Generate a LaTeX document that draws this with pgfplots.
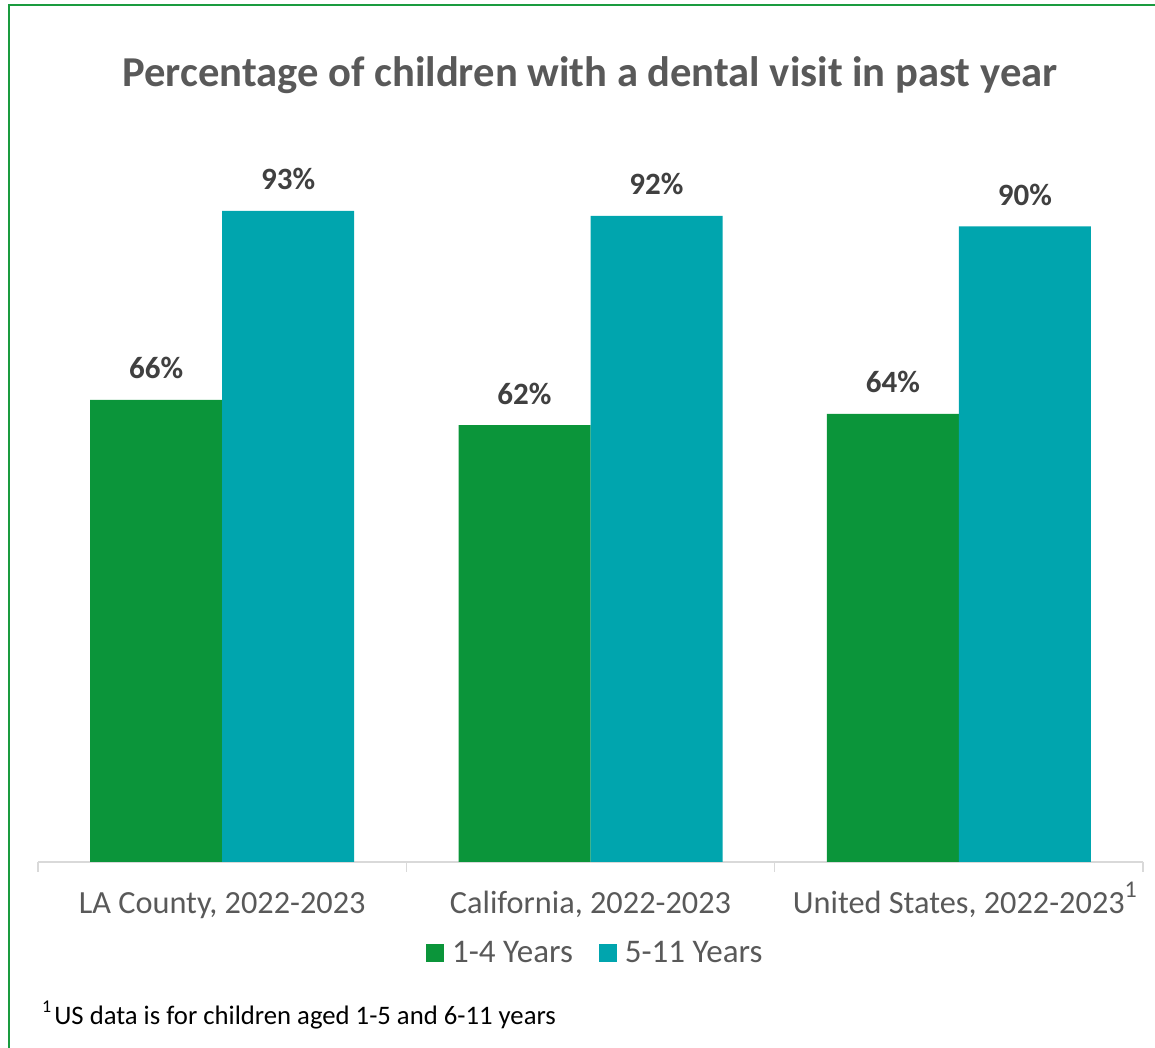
\documentclass[border=0pt]{standalone}
\usepackage{pgfplots}
\pgfplotsset{compat=1.18}
\usepackage{fontspec}
\setmainfont{Carlito}
\definecolor{cgreen}{HTML}{0B953A}
\definecolor{cteal}{HTML}{00A5AE}
\definecolor{cborder}{HTML}{1A9B3F}
\definecolor{ctext}{HTML}{595959}
\definecolor{clab}{HTML}{404040}
\definecolor{caxis}{HTML}{D9D9D9}
\begin{document}
\begin{tikzpicture}[x=1pt,y=1pt]
\useasboundingbox (0,0) rectangle (1155,1048);
\draw[cborder,line width=2pt] (9,-5) -- (9,1043) -- (1160,1043);
\node[anchor=base,text=ctext,font=\fontsize{42.6}{50}\selectfont\bfseries] at (590,961) {Percentage of children with a dental visit in past year};
\begin{axis}[
  at={(38pt,186pt)}, anchor=south west,
  scale only axis, width=1105pt, height=700pt,
  xmin=-0.5, xmax=2.5, ymin=0, ymax=100,
  axis x line*=bottom, axis y line=none,
  x axis line style={caxis,line width=1.5pt},
  ybar=0pt, bar width=132pt,
  clip=false,
  xtick={0,1,2},
  xticklabels={LA County{,} 2022-2023, California{,} 2022-2023, United States{,} 2022-2023\rlap{\raisebox{0.5em}{\fontsize{24}{28}\selectfont 1}}},
  major tick length=0pt,
  xtick style={draw=none},
  xticklabel style={text=ctext,font=\fontsize{32.3}{38}\selectfont,anchor=base,yshift=-52pt},
  point meta=explicit symbolic,
  nodes near coords={\pgfplotspointmeta\%},
  every node near coord/.append style={text=clab,font=\fontsize{31}{36}\selectfont\bfseries,anchor=base,yshift=21pt},
  legend columns=2,
  legend style={at={(axis description cs:0.507,-0.13)},anchor=center,draw=none,fill=none,
    font=\fontsize{33}{38}\selectfont, text=ctext, nodes={inner xsep=8pt},
    /tikz/every even column/.append style={column sep=18pt}},
  legend image code/.code={\fill[#1] (0pt,-9pt) rectangle (18pt,9pt);},
]
\addplot[fill=cgreen,draw=none] coordinates {(0,66) [66] (1,62.4) [62] (2,64) [64]};
\addplot[fill=cteal,draw=none] coordinates {(0,93) [93] (1,92.3) [92] (2,90.8) [90]};
\legend{1-4 Years,5-11 Years}
\draw[caxis,line width=1.5pt] (axis cs:-0.5,0) -- ([yshift=-10pt]axis cs:-0.5,0);
\draw[caxis,line width=1.5pt] (axis cs:0.5,0) -- ([yshift=-10pt]axis cs:0.5,0);
\draw[caxis,line width=1.5pt] (axis cs:1.5,0) -- ([yshift=-10pt]axis cs:1.5,0);
\draw[caxis,line width=1.5pt] (axis cs:2.5,0) -- ([yshift=-10pt]axis cs:2.5,0);
\end{axis}
\node[anchor=base west,font=\fontsize{26.7}{30}\selectfont,inner sep=0pt] at (42,23) {\raisebox{0.45em}{\fontsize{18}{20}\selectfont 1}\hspace{3pt}US data is for children aged 1-5 and 6-11 years};
\end{tikzpicture}
\end{document}
